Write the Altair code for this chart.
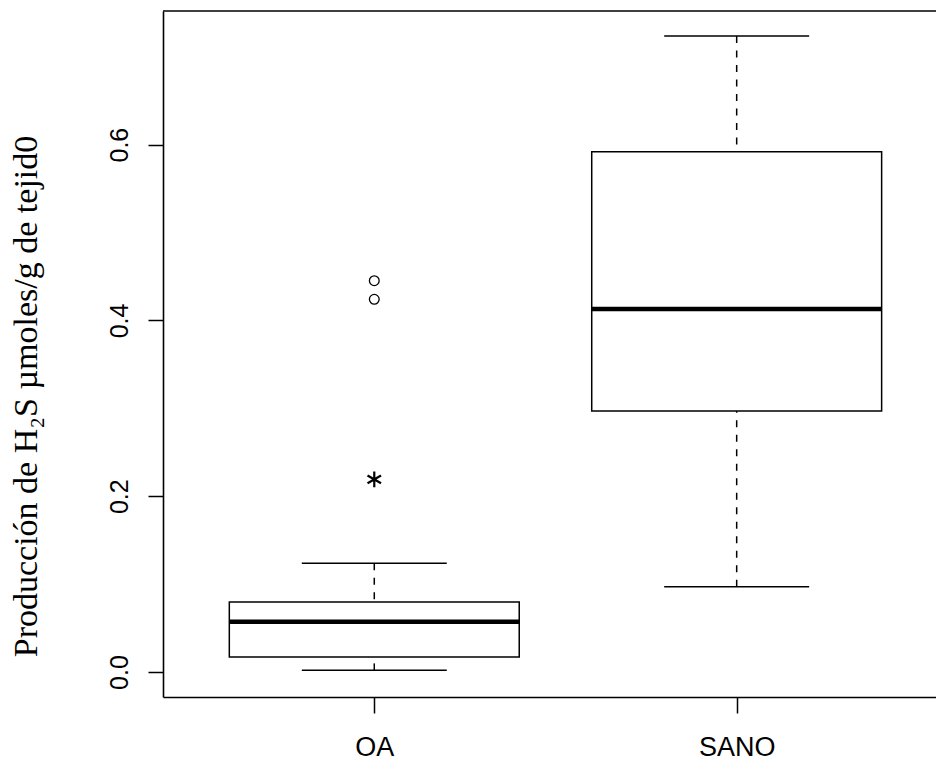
import json
import altair as alt
import pandas as pd

# ---- data (R-style boxplot statistics) ----
categories = ["OA", "SANO"]
whisker_low = [0.0019, 0.0970]
q1 = [0.0171, 0.2969]
median = [0.0572, 0.4130]
q3 = [0.0796, 0.5919]
whisker_high = [0.1237, 0.7235]

outlier_group = ["OA", "OA"]
outlier_values = [0.4452, 0.4240]

star_group = ["OA"]
star_values = [0.2192]

y_ticks = [0.0, 0.2, 0.4, 0.6]
y_title = "Producción de H₂S µmoles/g de tejid0"

# ---- tables ----
pos_of = {c: i + 1 for i, c in enumerate(categories)}
box_df = pd.DataFrame({
    "group": categories,
    "pos": [pos_of[c] for c in categories],
    "wlo": whisker_low, "q1": q1, "med": median, "q3": q3, "whi": whisker_high,
})
out_df = pd.DataFrame({"group": outlier_group, "value": outlier_values})
out_df["pos"] = out_df["group"].map(pos_of)
star_df = pd.DataFrame({"group": star_group, "value": star_values})
star_df["pos"] = star_df["group"].map(pos_of)

W, H = 773, 686
BOX_HALF = 0.4
STAPLE_HALF = 0.2

x_scale = alt.Scale(domain=[0.417, 2.550], nice=False, zero=False)
y_scale = alt.Scale(domain=[-0.0284, 0.752], nice=False, zero=False)

label_expr = json.dumps(categories) + "[datum.value - 1]"
x_axis = alt.Axis(
    values=[pos_of[c] for c in categories], labelExpr=label_expr, title=None,
    grid=False, domain=True, domainColor="#000", domainWidth=1.6,
    ticks=True, tickSize=16, tickColor="#000", tickWidth=1.5,
    labelFont="Liberation Sans", labelFontSize=27, labelColor="#000",
    labelPadding=42, labelBaseline="alphabetic", labelAlign="center",
)
y_axis = alt.Axis(
    values=y_ticks, format=".1f", title=y_title, grid=False,
    domain=True, domainColor="#000", domainWidth=1.6,
    ticks=True, tickSize=15, tickColor="#000", tickWidth=1.5,
    labelFont="Liberation Sans", labelFontSize=25, labelColor="#000",
    labelAngle=270, labelAlign="center", labelBaseline="alphabetic", labelPadding=21,
    titleFont="Liberation Serif", titleFontSize=34, titleFontWeight="normal",
    titleColor="#000", titleAngle=270, titleAlign="center", titleBaseline="alphabetic",
    titleX=-127, titleY=385,
)

base = alt.Chart(box_df).transform_calculate(
    blo=f"datum.pos - {BOX_HALF}", bhi=f"datum.pos + {BOX_HALF}",
    slo=f"datum.pos - {STAPLE_HALF}", shi=f"datum.pos + {STAPLE_HALF}",
)

dash = [7, 7.5]
whisk_up = base.mark_rule(color="#000", strokeWidth=1.5, strokeDash=dash).encode(
    x=alt.X("pos:Q", scale=x_scale, axis=x_axis),
    y=alt.Y("whi:Q", scale=y_scale, axis=y_axis),
    y2="q3:Q",
)
whisk_dn = base.mark_rule(color="#000", strokeWidth=1.5, strokeDash=dash).encode(
    x=alt.X("pos:Q", scale=x_scale, axis=x_axis),
    y=alt.Y("wlo:Q", scale=y_scale, axis=y_axis),
    y2="q1:Q",
)
staple_up = base.mark_rule(color="#000", strokeWidth=1.5).encode(
    x=alt.X("slo:Q", scale=x_scale, axis=x_axis), x2="shi:Q",
    y=alt.Y("whi:Q", scale=y_scale, axis=y_axis),
)
staple_dn = base.mark_rule(color="#000", strokeWidth=1.5).encode(
    x=alt.X("slo:Q", scale=x_scale, axis=x_axis), x2="shi:Q",
    y=alt.Y("wlo:Q", scale=y_scale, axis=y_axis),
)
box = base.mark_rect(fill="white", stroke="#000", strokeWidth=1.5).encode(
    x=alt.X("blo:Q", scale=x_scale, axis=x_axis), x2="bhi:Q",
    y=alt.Y("q1:Q", scale=y_scale, axis=y_axis), y2="q3:Q",
)
med = base.mark_rule(color="#000", strokeWidth=4.5, strokeCap="butt").encode(
    x=alt.X("blo:Q", scale=x_scale, axis=x_axis), x2="bhi:Q",
    y=alt.Y("med:Q", scale=y_scale, axis=y_axis),
)
outl = alt.Chart(out_df).mark_point(
    shape="circle", filled=False, size=95, stroke="#000", strokeWidth=1.3, opacity=1
).encode(
    x=alt.X("pos:Q", scale=x_scale, axis=x_axis),
    y=alt.Y("value:Q", scale=y_scale, axis=y_axis),
)
star_path = "M0,-1L0,1M-0.866,-0.5L0.866,0.5M-0.866,0.5L0.866,-0.5"
star = alt.Chart(star_df).mark_point(
    shape=star_path, filled=False, size=243, stroke="#000", strokeWidth=2.2, opacity=1
).encode(
    x=alt.X("pos:Q", scale=x_scale, axis=x_axis),
    y=alt.Y("value:Q", scale=y_scale, axis=y_axis),
)
top_frame = alt.Chart(pd.DataFrame({"a": [0]})).mark_rule(color="#000", strokeWidth=1.6).encode(
    x=alt.value(0), x2=alt.value(W), y=alt.value(0)
)

chart = alt.layer(
    whisk_up, whisk_dn, staple_up, staple_dn, box, med, outl, star, top_frame
).properties(
    width=W, height=H,
    autosize=alt.AutoSizeParams(type="none"),
    padding={"left": 163, "top": 11, "right": 0, "bottom": 63},
    background="white",
).configure_view(stroke=None)

chart.save("out.html", embed_options={"renderer": "svg", "actions": False})
